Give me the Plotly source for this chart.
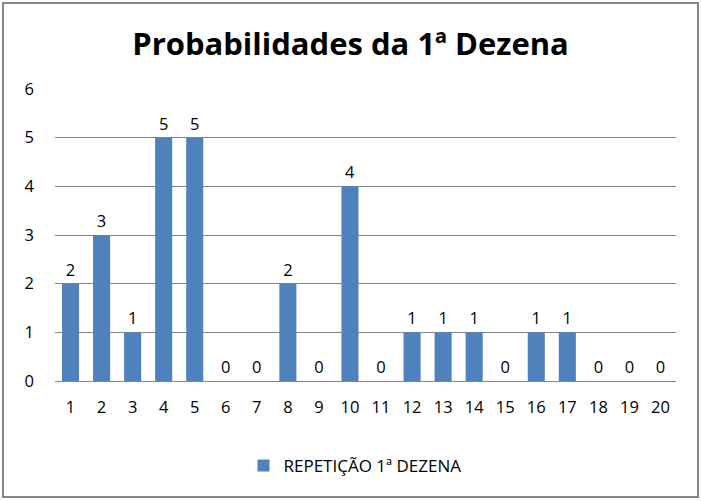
import plotly.graph_objects as go

# dados
dezenas = [str(i) for i in range(1, 21)]
repeticoes = [2, 3, 1, 5, 5, 0, 0, 2, 0, 4, 0, 1, 1, 1, 0, 1, 1, 0, 0, 0]

W, H = 701, 501
L, R, T, B = 55, 25, 89, 120
pw, ph = W - L - R, H - T - B
FONT = "Open Sans"

fig = go.Figure()

fig.add_trace(go.Bar(
    x=dezenas, y=repeticoes,
    name="REPETIÇÃO 1ª DEZENA",
    marker=dict(color="#4F81BD", line=dict(width=0)),
    text=repeticoes, textposition="outside",
    textfont=dict(size=16.5, color="#000000", family=FONT),
    cliponaxis=False,
))

def px(x):
    return (x - L) / pw

def py(y):
    return (H - B - y) / ph

fig.update_layout(
    width=W, height=H,
    margin=dict(l=L, r=R, t=T, b=B),
    paper_bgcolor="white", plot_bgcolor="white",
    font=dict(family=FONT, size=16.5, color="#000000"),
    title=dict(text="<b>Probabilidades da 1ª Dezena</b>", x=0.5, xanchor="center",
               y=1 - 44 / H, yanchor="middle", font=dict(size=31, family=FONT)),
    bargap=0.45,
    showlegend=True,
    legend=dict(orientation="h", x=0.5 + (355 - (L + pw / 2)) / pw, xanchor="center",
                y=py(466), yanchor="middle", font=dict(size=17), itemwidth=30),
    shapes=[dict(type="rect", xref="paper", yref="paper",
                 x0=px(3), x1=px(698), y0=py(497), y1=py(3),
                 line=dict(color="#868686", width=2))],
)

fig.update_xaxes(showgrid=False, showline=True, linecolor="#868686", linewidth=1,
                 ticks="", tickfont=dict(size=16.5), ticklabelstandoff=11)
fig.update_yaxes(range=[0, 6], dtick=1, showgrid=True, gridcolor="#868686", gridwidth=1,
                 zeroline=False, showline=False, ticks="", tickfont=dict(size=16.5),
                 ticklabelstandoff=20)

fig.write_html("out.html", config={"displayModeBar": False},
               post_script="document.body.style.margin='0';")
